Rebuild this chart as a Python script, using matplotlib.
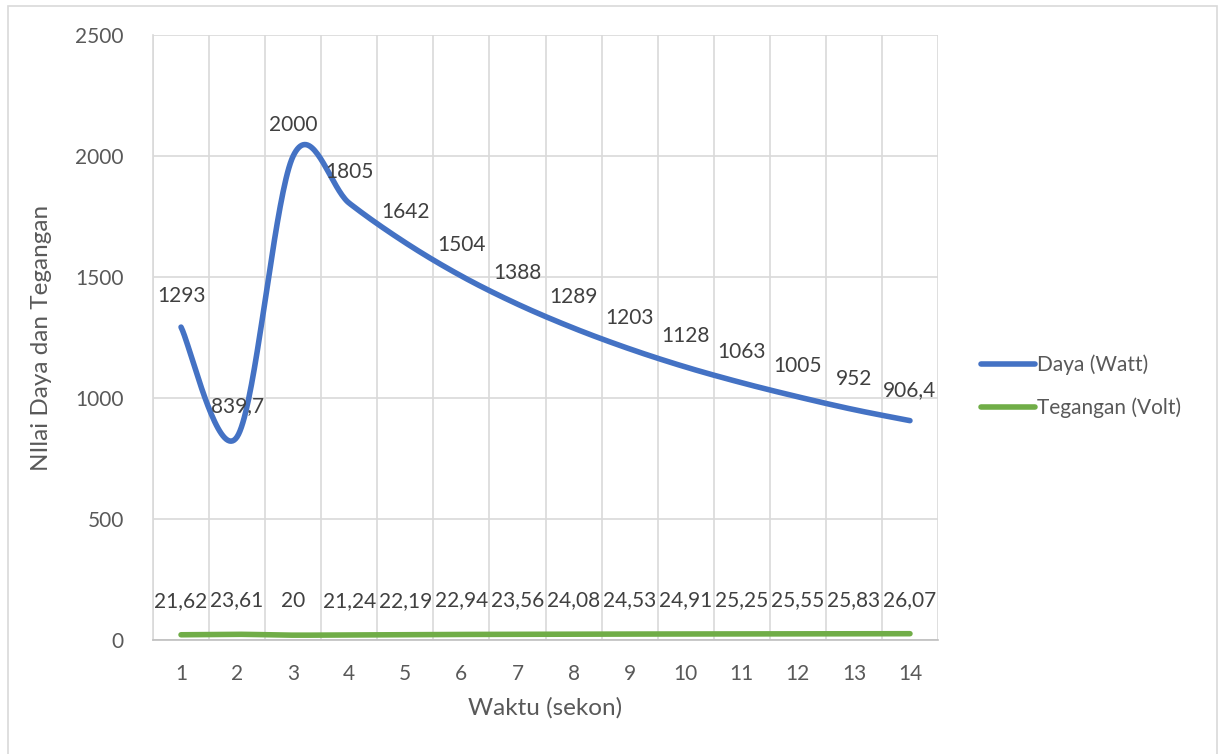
import matplotlib
matplotlib.use("Agg")
import matplotlib.pyplot as plt
import numpy as np
from matplotlib.patches import Rectangle

waktu = list(range(1, 15))
daya = [1293, 839.7, 2000, 1805, 1642, 1504, 1388, 1289, 1203, 1128, 1063, 1005, 952, 906.4]
daya_labels = ["1293", "839,7", "2000", "1805", "1642", "1504", "1388", "1289", "1203",
               "1128", "1063", "1005", "952", "906,4"]
tegangan = [21.62, 23.61, 20, 21.24, 22.19, 22.94, 23.56, 24.08, 24.53, 24.91, 25.25, 25.55, 25.83, 26.07]
tegangan_labels = ["21,62", "23,61", "20", "21,24", "22,19", "22,94", "23,56", "24,08",
                   "24,53", "24,91", "25,25", "25,55", "25,83", "26,07"]

plt.rcParams['font.family'] = ['Lato', 'DejaVu Sans']
TXT = '#595959'
FS = 15


def smooth(x, y, n=40):
    x = np.asarray(x, float)
    y = np.asarray(y, float)
    P = np.column_stack([x, y])
    out = []
    m = len(P)
    for i in range(m - 1):
        p0 = P[i - 1] if i > 0 else P[i]
        p1 = P[i]
        p2 = P[i + 1]
        p3 = P[i + 2] if i + 2 < m else P[i + 1]
        c1 = p1 + (p2 - p0) / 6.0
        c2 = p2 - (p3 - p1) / 6.0
        t = np.linspace(0, 1, n)[:, None]
        seg = ((1 - t) ** 3) * p1 + 3 * ((1 - t) ** 2) * t * c1 + 3 * (1 - t) * t ** 2 * c2 + t ** 3 * p2
        if i > 0:
            seg = seg[1:]
        out.append(seg)
    out = np.vstack(out)
    return out[:, 0], out[:, 1]


fig = plt.figure(figsize=(12.24, 7.54), dpi=100)
fig.patches.append(Rectangle((8 / 1224, -0.01), (1217 - 8) / 1224, (754 - 6) / 754 + 0.01,
                             transform=fig.transFigure, fill=False, edgecolor='#D9D9D9', lw=1.2))
ax = fig.add_axes([153 / 1224, 1 - 640 / 754, (938 - 153) / 1224, (640 - 35) / 754])

xs, ys = smooth(waktu, daya)
l1, = ax.plot(xs, ys, color='#4472C4', lw=4, solid_capstyle='round', label='Daya (Watt)', zorder=3)
xs2, ys2 = smooth(waktu, tegangan)
l2, = ax.plot(xs2, ys2, color='#70AD47', lw=4, solid_capstyle='round', label='Tegangan (Volt)', zorder=3)

for x, y, s in zip(waktu, daya, daya_labels):
    ax.annotate(s, (x, y), xytext=(0, 31), textcoords='offset pixels', ha='center', va='center',
                fontsize=FS, color='#404040', zorder=4)
for x, y, s in zip(waktu, tegangan, tegangan_labels):
    ax.annotate(s, (x, y), xytext=(0, 34), textcoords='offset pixels', ha='center', va='center',
                fontsize=FS, color='#404040', zorder=4)

ax.set_xlim(0.5, 14.5)
ax.set_ylim(0, 2500)
ax.set_yticks(range(0, 2501, 500))
ax.set_xticks(waktu)
ax.set_xticks(np.arange(0.5, 14.6, 1), minor=True)
ax.grid(True, which='major', axis='y', color='#D9D9D9', lw=1.2)
ax.grid(True, which='minor', axis='x', color='#D9D9D9', lw=1.2)
ax.set_axisbelow(True)
ax.tick_params(axis='both', which='both', length=0, labelsize=FS, colors=TXT)
ax.tick_params(axis='y', pad=21)
ax.tick_params(axis='x', pad=17)
for side in ['top', 'right']:
    ax.spines[side].set_visible(False)
ax.spines['left'].set_color('#D9D9D9')
ax.spines['bottom'].set_color('#BFBFBF')
ax.spines['left'].set_linewidth(1.2)
ax.spines['bottom'].set_linewidth(1.2)

ax.set_xlabel('Waktu (sekon)', fontsize=17.5, color=TXT, labelpad=10)
ax.set_ylabel('NIlai Daya dan Tegangan', fontsize=17.5, color=TXT, labelpad=17)

fig.legend(handles=[l1, l2], loc='upper left', bbox_to_anchor=(962 / 1224, 1 - 336 / 754),
           frameon=False, fontsize=FS, labelcolor=TXT, handlelength=2.6, handletextpad=0.1,
           labelspacing=1.05)

fig.savefig('out.png', dpi=100)
